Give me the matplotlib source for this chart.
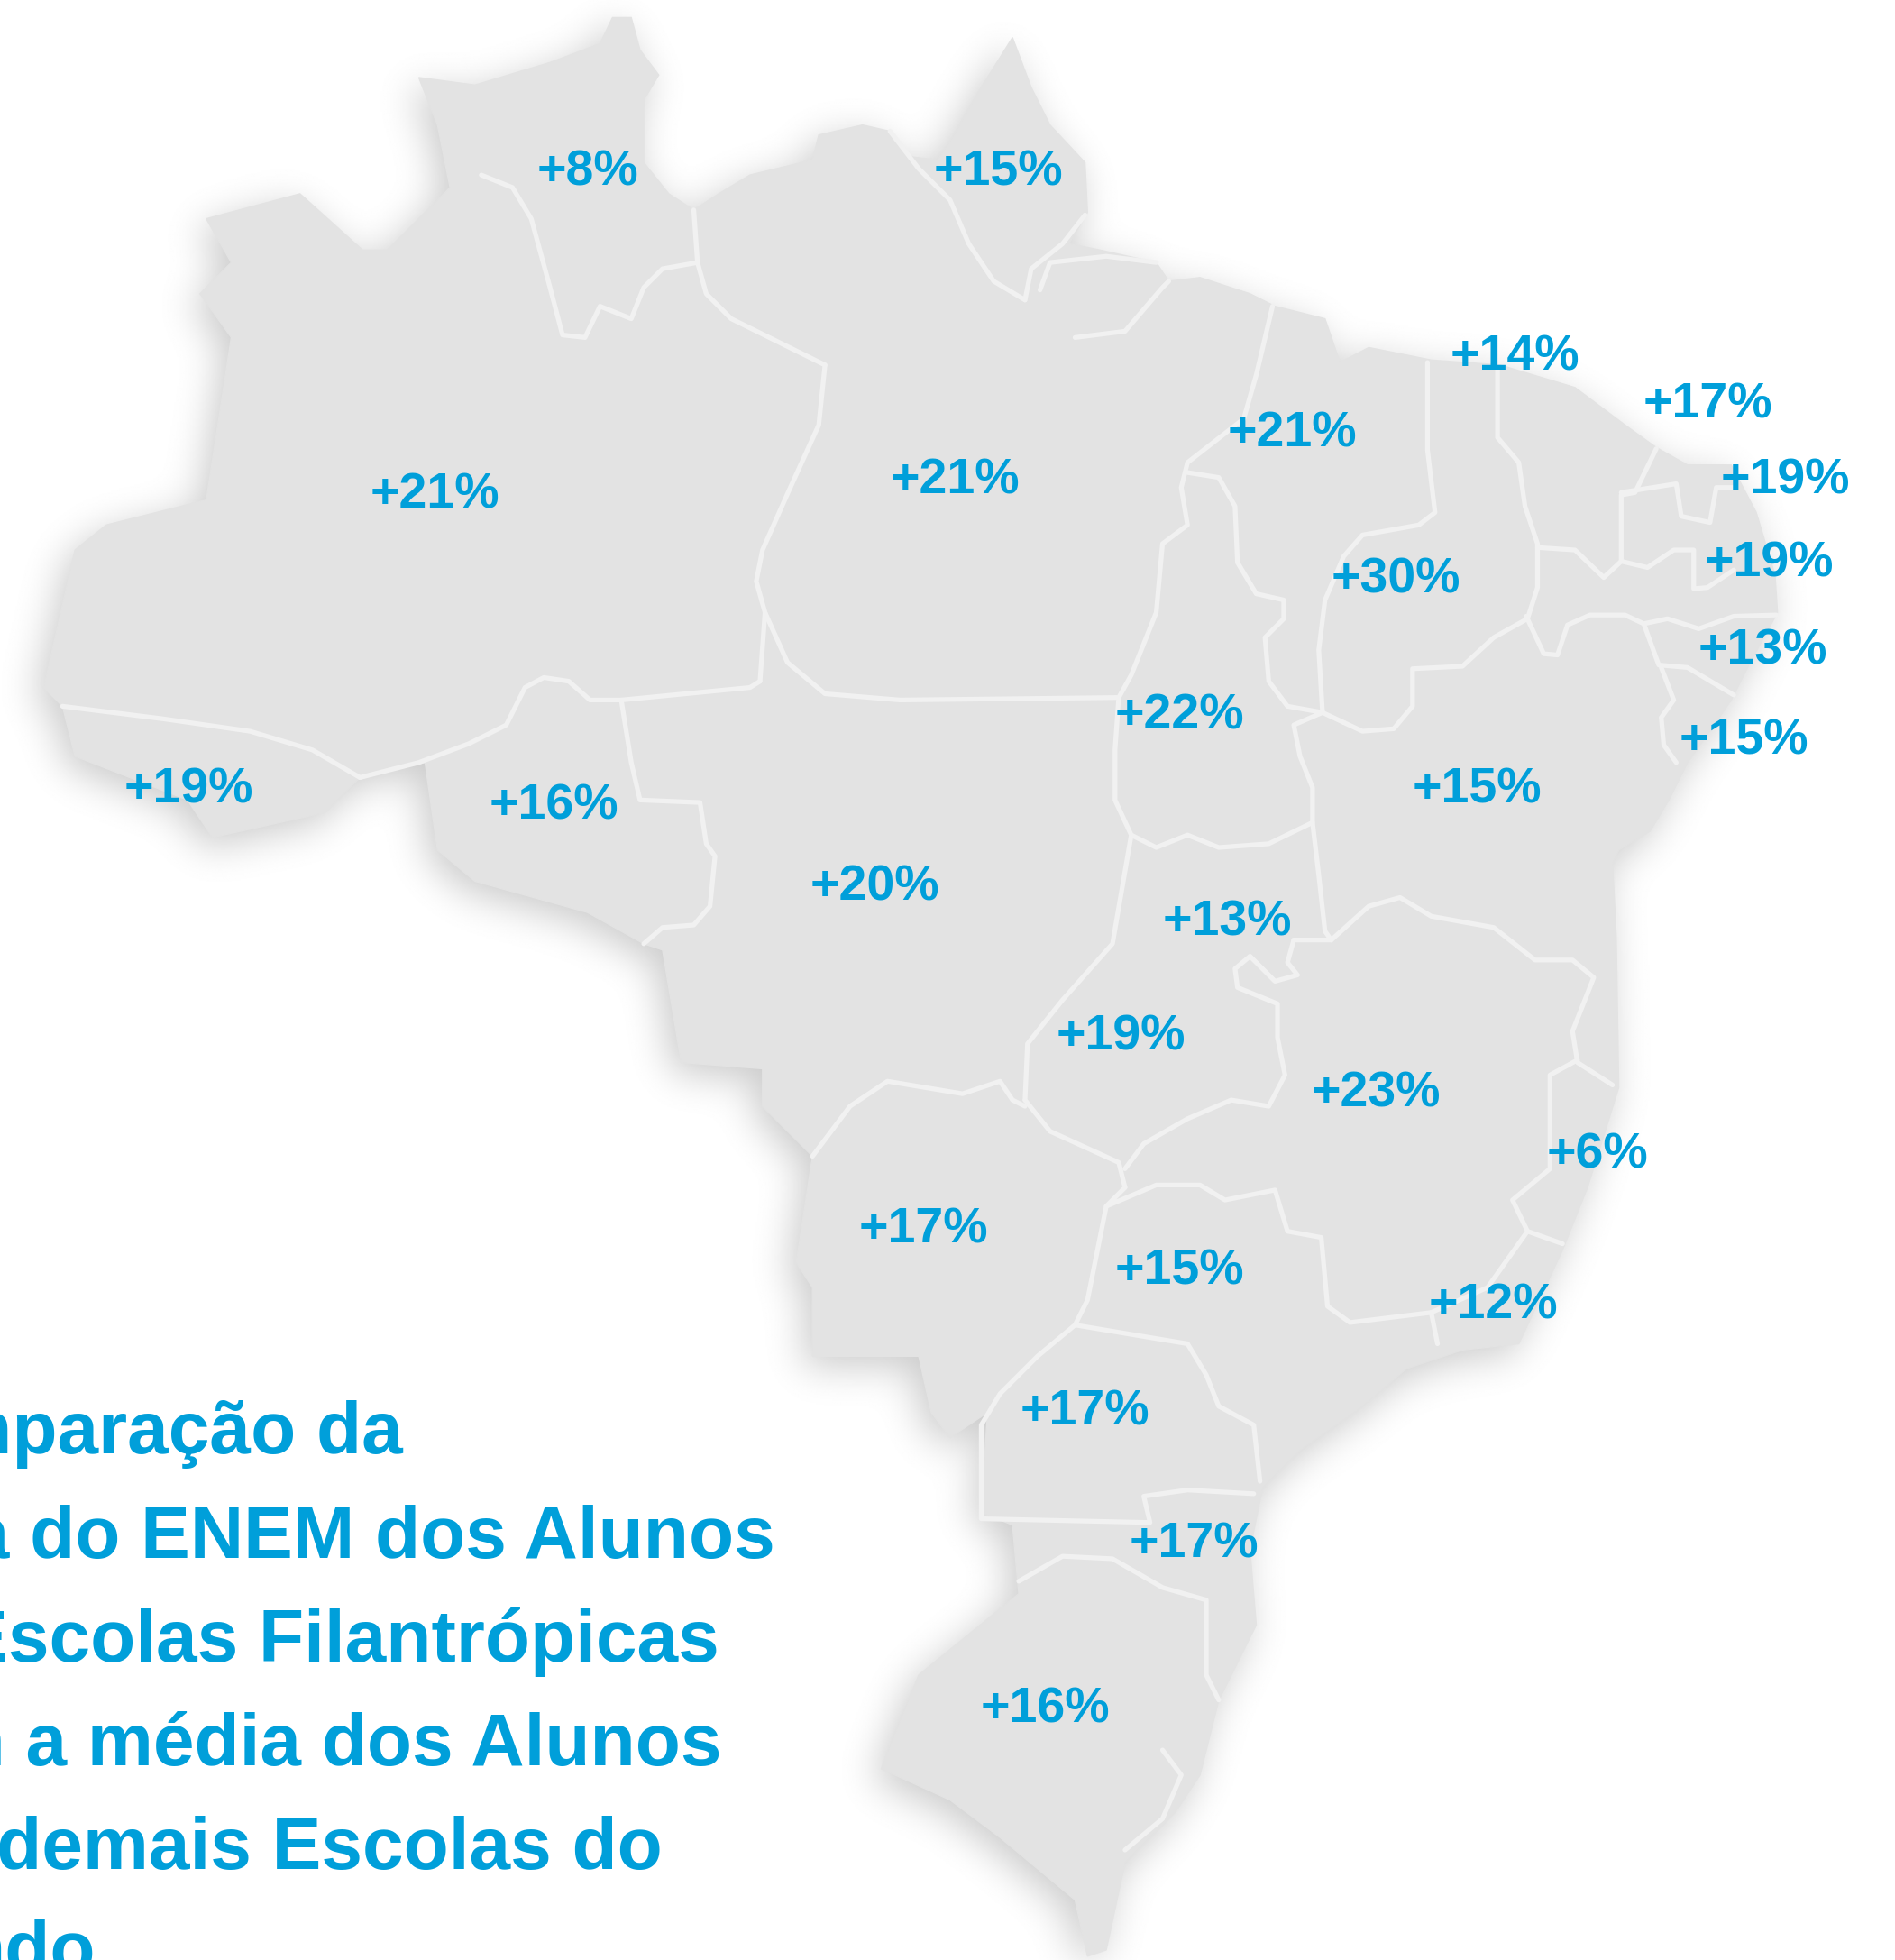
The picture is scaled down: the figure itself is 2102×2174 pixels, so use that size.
#Importing the libraries
import numpy as np
import matplotlib
matplotlib.use("Agg")
import matplotlib.pyplot as plt

# MAP DATA (x, y, y going down)

outline = [(335,62),(380,68),(440,50),(480,35),(490,14),(505,14),(512,40),(527,60),(515,80),(515,130),
           (535,155),(555,168),(575,155),(600,140),(650,128),(655,108),(690,100),(712,105),(725,125),(750,128),
           (762,110),(785,70),(810,30),(825,70),(840,100),(868,130),(870,170),(855,195),(880,200),(925,210),
           (935,225),(960,222),(1000,235),(1020,245),(1060,255),(1072,290),(1095,278),(1145,288),(1200,292),(1260,310),
           (1300,340),(1325,358),(1350,372),(1385,372),(1405,410),(1420,460),(1422,490),(1400,530),(1385,560),(1350,610),
           (1335,640),(1320,665),(1295,680),(1290,690),(1293,750),(1295,870),(1270,950),(1250,1000),(1215,1075),(1170,1080),
           (1125,1095),(1090,1125),(1040,1160),(1010,1190),(1000,1240),(1005,1300),(975,1360),(960,1420),(940,1450),(900,1490),
           (885,1560),(870,1565),(860,1520),(800,1470),(760,1440),(705,1415),(735,1340),(815,1275),(810,1220),(785,1210),
           (790,1130),(760,1150),(745,1130),(735,1085),(650,1085),(650,1030),(637,1010),(650,925),(610,885),(610,855),
           (545,850),(530,760),(515,755),(470,730),(380,705),(350,680),(340,610),(290,620),(260,650),(170,670),
           (150,640),(60,605),(50,565),(35,550),(60,440),(85,420),(165,400),(185,270),(160,235),(185,210),
           (165,175),(240,155),(290,200),(310,200),(360,150),(350,100)]

borders = [
    [(50,565),(130,575),(200,585),(250,600),(288,622)],
    [(385,140),(410,150),(425,175),(440,230),(450,268),(468,270),(480,245),(505,255),(515,230),(530,215),(558,210)],
    [(555,168),(558,210),(565,235),(585,255),(660,292)],
    [(660,292),(655,340),(630,395),(610,440),(605,465),(612,490),(608,545)],
    [(288,622),(335,610),(375,595),(405,580),(420,550),(435,542),(455,545),(472,560),(497,560),(600,550),(608,545)],
    [(612,490),(630,530),(660,555),(720,560),(895,558)],
    [(497,560),(505,610),(512,640),(560,642),(565,675),(572,685),(568,725),(555,740),(530,742),(515,755)],
    [(712,105),(735,135),(760,160),(775,195),(795,225),(820,240)],
    [(820,240),(825,215),(850,195),(868,172)],
    [(832,232),(840,210),(885,205),(925,210)],
    [(860,270),(900,265),(930,230),(935,225)],
    [(1018,245),(1005,300),(995,335),(950,370),(945,390),(950,420),(930,435),(925,490),(905,540),(895,558)],
    [(895,558),(892,600),(892,640),(905,668),(925,678),(950,668),(975,678),(1015,675),(1050,658)],
    [(950,378),(975,382),(988,405),(990,450),(1005,475),(1027,480),(1027,495),(1012,510),(1015,545),(1030,565),(1058,570),(1075,578)],
    [(1142,290),(1142,360),(1148,410),(1135,420),(1090,428),(1075,445),(1060,480),(1055,520),(1058,570)],
    [(1075,578),(1090,585),(1115,583),(1130,565),(1130,535),(1170,533),(1195,510),(1222,495)],
    [(1198,295),(1198,350),(1215,370),(1220,405),(1230,435),(1230,470),(1222,495)],
    [(1058,570),(1035,580),(1040,605),(1050,630),(1050,658),(1055,700),(1060,745),(1065,752)],
    [(1325,359),(1308,394),(1297,396),(1297,449)],
    [(1297,394),(1341,387),(1345,413),(1368,418),(1373,390),(1387,390)],
    [(1230,438),(1260,440),(1283,462),(1297,449),(1318,454),(1339,440),(1355,440),(1355,471),(1366,470),(1387,456)],
    [(1221,493),(1235,523),(1246,524),(1254,500),(1272,492),(1300,492),(1315,499),(1334,495),(1359,503),(1387,493),(1421,492)],
    [(1315,499),(1327,532),(1350,534),(1387,556)],
    [(1329,534),(1339,560),(1329,574),(1331,596),(1341,610)],
    [(1035,752),(1065,752),(1095,725),(1120,718),(1145,733),(1195,742),(1228,768),(1258,768),(1275,782),(1258,825),(1262,850),(1290,868)],
    [(1035,752),(1030,770),(1038,780),(1020,785),(1000,765),(988,775),(990,790),(1022,803),(1022,830),(1028,860),(1015,885),(985,880),(950,895),(915,915),(900,935)],
    [(905,668),(890,755),(850,800),(822,835),(820,880)],
    [(820,880),(840,905),(895,930),(900,950)],
    [(650,925),(680,885),(710,865),(770,875),(800,865),(810,880),(820,885)],
    [(900,950),(885,965),(925,948),(960,948),(980,960),(1020,952),(1030,985),(1057,990),(1062,1045),(1080,1058),(1145,1050),(1190,1030),(1222,985),(1210,960),(1240,935),(1240,860),(1262,848)],
    [(1222,985),(1250,995)],
    [(885,965),(870,1040),(860,1060)],
    [(860,1060),(830,1085),(800,1115),(785,1140),(785,1215)],
    [(860,1060),(950,1075),(965,1100),(975,1125),(1003,1140),(1008,1185)],
    [(1145,1050),(1150,1075)],
    [(785,1215),(920,1218),(915,1197),(950,1192),(1003,1195)],
    [(815,1265),(850,1245),(890,1247),(930,1270),(965,1280),(965,1340),(975,1360)],
    [(900,1480),(930,1455),(945,1420),(930,1400)],
]

# VALUES AND TITLE

labels = ["+8%","+15%","+14%","+17%","+19%","+19%","+13%","+15%","+21%","+21%","+21%","+30%","+22%","+15%",
          "+19%","+16%","+20%","+13%","+19%","+23%","+6%","+17%","+15%","+12%","+17%","+17%","+16%"]
label_x = [470,799,1212,1366,1428,1415,1410,1395,1034,764,348,1117,944,1182,
           151,443,700,982,897,1101,1278,739,944,1195,868,955,836]
label_y = [138,138,286,324,385,451,521,593,347,385,396,464,573,632,
           632,645,710,738,830,875,924,984,1017,1045,1130,1236,1368]

title_lines = ["Comparação da","Nota do ENEM dos Alunos","das Escolas Filantrópicas",
               "com a média dos Alunos","das demais Escolas do","ndo"]
title_right = [322,620,575,577,530,76]
title_base = [1163,1246,1329,1412,1495,1578]

BLUE = "#009fda"

plt.rcParams['font.family'] = ['Liberation Sans', 'DejaVu Sans']

W, H = 1516, 1568
xs = [p[0] for p in outline]
ys = [p[1] for p in outline]


# FUNCTION TO MAKE THE BLURRED SHADOW OF THE MAP

def shadow_image(dx, dy, sigma, strength):
    tmp = plt.figure(figsize=(W / 100, H / 100), dpi=100)
    tax = tmp.add_axes([0, 0, 1, 1])
    tax.set_xlim(0, W)
    tax.set_ylim(H, 0)
    tax.axis('off')
    tax.fill([x + dx for x in xs], [y + dy for y in ys], color='black')
    tmp.canvas.draw()
    mask = 1 - np.asarray(tmp.canvas.buffer_rgba())[:, :, 0] / 255.0
    plt.close(tmp)

    r = int(3 * sigma)
    kernel = np.exp(-0.5 * (np.arange(-r, r + 1) / sigma) ** 2)
    kernel = kernel / kernel.sum()
    mask = np.apply_along_axis(lambda v: np.convolve(v, kernel, mode='same'), 0, mask)
    mask = np.apply_along_axis(lambda v: np.convolve(v, kernel, mode='same'), 1, mask)
    return 1 - strength * mask


fig = plt.figure(figsize=(21.02, 21.74), dpi=100)
ax = fig.add_axes([0, 0, 1, 1])

ax.imshow(shadow_image(-6, 8, 15, 0.2), cmap='gray', vmin=0, vmax=1, extent=(0, W, H, 0),
          aspect='auto', interpolation='bilinear', zorder=1)
ax.set_xlim(0, W)
ax.set_ylim(H, 0)
ax.axis('off')

ax.fill(xs, ys, facecolor='#e3e3e3', edgecolor='#e3e3e3', linewidth=1, zorder=2)

for line in borders:
    ax.plot([p[0] for p in line], [p[1] for p in line], color='#f1f1f1', linewidth=3.8,
            solid_joinstyle='round', solid_capstyle='round', zorder=3)

for t, x, y in zip(labels, label_x, label_y):
    ax.text(x, y, t, color=BLUE, fontsize=40, fontweight='bold', ha='center', va='center', zorder=4)

for t, x, y in zip(title_lines, title_right, title_base):
    ax.text(x, y, t, color=BLUE, fontsize=59, fontweight='bold', ha='right', va='baseline', zorder=4)

fig.savefig('out.png', dpi=100, facecolor='white')
